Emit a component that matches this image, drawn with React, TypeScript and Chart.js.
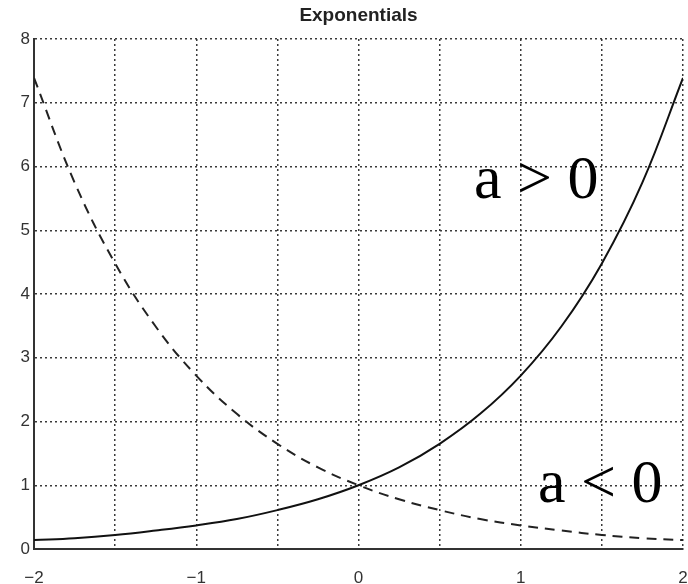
import React, { useEffect, useRef } from "react";
import { Chart, registerables } from "chart.js";

Chart.register(...registerables);

const xValues = [-2, -1.75, -1.5, -1.25, -1, -0.75, -0.5, -0.25, 0, 0.25, 0.5, 0.75, 1, 1.25, 1.5, 1.75, 2];
const growth = [0.14, 0.17, 0.22, 0.29, 0.37, 0.47, 0.61, 0.78, 1.0, 1.28, 1.65, 2.12, 2.72, 3.49, 4.48, 5.75, 7.39];
const decay = [7.39, 5.75, 4.48, 3.49, 2.72, 2.12, 1.65, 1.28, 1.0, 0.78, 0.61, 0.47, 0.37, 0.29, 0.22, 0.17, 0.14];
const xTickLabels = ["\u22122", "\u22121", "0", "1", "2"];
const titleText = "Exponentials";
const growthLabel = "a > 0";
const decayLabel = "a < 0";

const sans = "'Liberation Sans', Arial, sans-serif";

const annotations = {
  id: "annotations",
  afterDraw(chart: any) {
    const ctx = chart.ctx;
    ctx.save();
    ctx.fillStyle = "#222";
    ctx.font = `bold 19px ${sans}`;
    ctx.textAlign = "center";
    ctx.textBaseline = "middle";
    ctx.fillText(titleText, (chart.chartArea.left + chart.chartArea.right) / 2, 16);

    ctx.fillStyle = "#000";
    ctx.font = "62px 'Liberation Serif', 'Times New Roman', serif";
    ctx.textAlign = "left";
    ctx.textBaseline = "alphabetic";
    ctx.fillText(growthLabel, 474, 198);
    ctx.fillText(decayLabel, 538, 502);
    ctx.restore();
  },
};

export default function App() {
  const ref = useRef<HTMLCanvasElement>(null);

  useEffect(() => {
    const canvas = ref.current;
    if (!canvas) return;
    const gridColor = "#3a3a3a";
    const chart = new Chart(canvas, {
      type: "line",
      data: {
        datasets: [
          {
            label: growthLabel,
            data: xValues.map((x, i) => ({ x, y: growth[i] })),
            borderColor: "#111",
            borderWidth: 2,
            pointRadius: 0,
            tension: 0.4,
            fill: false,
          },
          {
            label: decayLabel,
            data: xValues.map((x, i) => ({ x, y: decay[i] })),
            borderColor: "#222",
            borderWidth: 2,
            borderDash: [10, 7],
            pointRadius: 0,
            tension: 0.4,
            fill: false,
          },
        ],
      },
      options: {
        responsive: false,
        animation: false,
        layout: { padding: { top: 39, right: 5, left: 0, bottom: 0 } },
        plugins: {
          legend: { display: false },
          title: { display: false },
          tooltip: { enabled: false },
        },
        scales: {
          x: {
            type: "linear",
            min: -2,
            max: 2,
            afterFit(scale: any) {
              scale.height = 35;
              scale.paddingLeft = 0;
              scale.paddingRight = 0;
            },
            ticks: {
              stepSize: 0.5,
              padding: 19,
              maxRotation: 0,
              autoSkip: false,
              color: "#333",
              font: { family: sans, size: 17 },
              callback: (v: any) => {
                const n = Number(v);
                if (Math.abs(n - Math.round(n)) > 1e-9) return "";
                return xTickLabels[Math.round(n) + 2];
              },
            },
            grid: {
              color: gridColor,
              lineWidth: 1.5,
              drawTicks: false,
            },
            border: { display: true, color: "#333", width: 2, dash: [2, 3] },
          },
          y: {
            min: 0,
            max: 8,
            afterFit(scale: any) {
              scale.width = 34;
              scale.paddingTop = 0;
              scale.paddingBottom = 0;
            },
            ticks: {
              stepSize: 1,
              padding: 4,
              color: "#333",
              font: { family: sans, size: 17 },
            },
            grid: {
              color: gridColor,
              lineWidth: 1.5,
              drawTicks: false,
            },
            border: { display: true, color: "#333", width: 2, dash: [2, 3] },
          },
        },
      },
      plugins: [
        annotations,
        {
          id: "solidAxes",
          beforeDatasetsDraw(c: any) {
            const { left, bottom, right, top } = c.chartArea;
            const ctx = c.ctx;
            ctx.save();
            ctx.strokeStyle = "#333";
            ctx.lineWidth = 2;
            ctx.beginPath();
            ctx.moveTo(left, top);
            ctx.lineTo(left, bottom);
            ctx.lineTo(right, bottom);
            ctx.stroke();
            ctx.restore();
          },
        },
      ],
    } as any);
    return () => chart.destroy();
  }, []);

  return (
    <div style={{ position: "absolute", left: 0, top: 0, width: 688, height: 584, background: "#fff" }}>
      <canvas ref={ref} width={688} height={584} />
    </div>
  );
}
